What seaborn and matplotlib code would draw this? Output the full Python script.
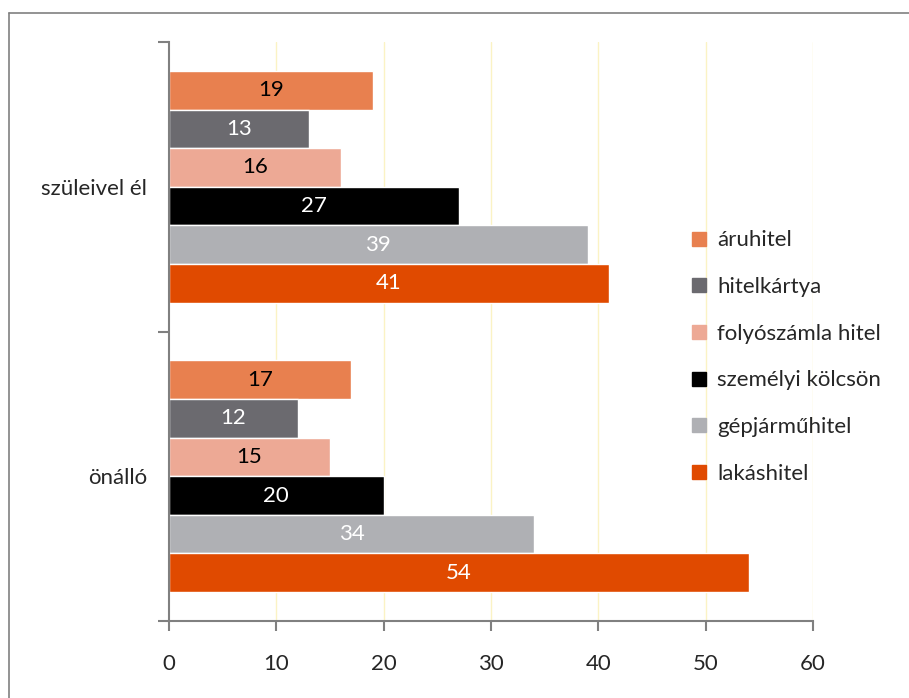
import matplotlib.pyplot as plt
import matplotlib.lines as mlines
import numpy as np
import pandas as pd
import seaborn as sns

# chart data
groups = ['szüleivel él', 'önálló']
series = ['áruhitel', 'hitelkártya', 'folyószámla hitel',
          'személyi kölcsön', 'gépjárműhitel', 'lakáshitel']
values_szulei = [19, 13, 16, 27, 39, 41]
values_onallo = [17, 12, 15, 20, 34, 54]
colors = ['#E8804F', '#6B6A6F', '#EDA995', '#000000', '#AFB0B4', '#E04A00']
label_colors = ['black', 'white', 'black', 'white', 'white', 'white']
x_ticks = [0, 10, 20, 30, 40, 50, 60]

df = pd.DataFrame({
    'group': [groups[0]] * len(series) + [groups[1]] * len(series),
    'series': series * 2,
    'value': values_szulei + values_onallo,
})

sns.set_theme(style='white')
plt.rcParams['font.family'] = ['Lato', 'DejaVu Sans']

fig = plt.figure(figsize=(9.09, 6.98), dpi=100)
ax = fig.add_axes([169 / 909, 1 - 621 / 698, (813 - 169) / 909, (621 - 42) / 698])

sns.barplot(data=df, y='group', x='value', hue='series', order=groups,
            hue_order=series, palette=colors, orient='h', width=0.8,
            saturation=1, ax=ax, legend=False)

# value labels inside bars
for cont, lc in zip(ax.containers, label_colors):
    ax.bar_label(cont, labels=[f'{v:g}' for v in cont.datavalues],
                 label_type='center', color=lc, fontsize=16)

ax.set_xlim(0, 60)
ax.set_ylim(1.5, -0.5)
ax.set_xticks(x_ticks)
ax.set_xlabel('')
ax.set_ylabel('')

for x in x_ticks[1:]:
    ax.axvline(x, color='#FBF3C4', lw=1, zorder=0)

for side in ['top', 'right']:
    ax.spines[side].set_visible(False)
for side in ['left', 'bottom']:
    ax.spines[side].set_color('#808080')
    ax.spines[side].set_linewidth(1.5)

ax.tick_params(axis='x', direction='out', length=7, width=1.5, color='#808080',
               pad=17, labelsize=16, bottom=True)
ax.tick_params(axis='y', which='major', length=0, pad=16, labelsize=16)
ax.set_yticks([-0.5, 0.5, 1.5], minor=True)
ax.tick_params(axis='y', which='minor', direction='out', length=8, width=1.5,
               color='#808080', left=True)

# legend
handles = [mlines.Line2D([], [], marker='s', linestyle='', color=c,
                         markersize=10) for c in colors]
fig.legend(handles, series, loc='center left',
           bbox_to_anchor=(668 / 909, 1 - 357 / 698), frameon=False,
           fontsize=16, labelspacing=1.2, handletextpad=0.3,
           handlelength=1.0)

# outer frame (only left and top are visible)
fig.add_artist(mlines.Line2D([9 / 909, 9 / 909], [0, 1 - 13 / 698],
                             color='#808080', lw=1.2))
fig.add_artist(mlines.Line2D([9 / 909, 1], [1 - 13 / 698, 1 - 13 / 698],
                             color='#808080', lw=1.2))

fig.savefig('out.png', dpi=100)
